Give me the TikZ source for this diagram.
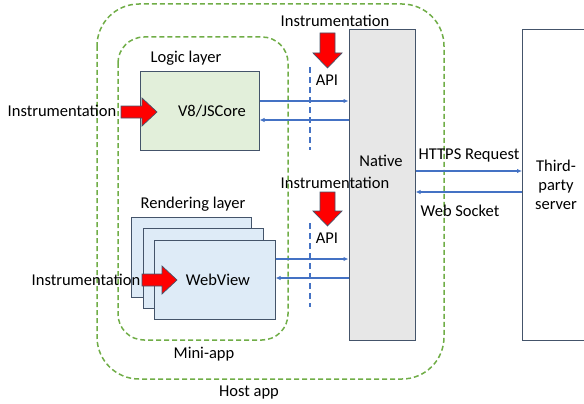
\documentclass[tikz,border=0pt]{standalone}
\usepackage{fontspec}
\setmainfont{Carlito}
\usetikzlibrary{arrows.meta}
\definecolor{dgreen}{RGB}{112,173,71}
\definecolor{lblue}{RGB}{68,114,196}
\definecolor{bord}{RGB}{68,84,106}
\definecolor{v8fill}{RGB}{226,239,218}
\definecolor{wvfill}{RGB}{222,235,247}
\definecolor{natfill}{RGB}{231,231,231}
\tikzset{
  lbl/.style={font=\fontsize{16.5}{19}\selectfont, inner sep=0pt, text=black},
  gbox/.style={draw=dgreen, dash pattern=on 5pt off 3pt, line width=1.5pt},
  blk/.style={draw=bord, line width=1pt, inner sep=0pt},
  flow/.style={draw=lblue, line width=1.3pt, -{Latex[length=5pt,width=4.5pt]}},
  apiline/.style={draw=lblue, line width=1.5pt, dash pattern=on 6pt off 4pt},
  redarrow/.style={fill=red, draw=bord, line width=0.7pt, line join=miter}
}
\begin{document}
\begin{tikzpicture}[x=1pt,y=-1pt]
\useasboundingbox (0,0) rectangle (584,404);
% host app and mini app
\draw[gbox, rounded corners=42pt] (97,4) rectangle (444,379);
\draw[gbox, rounded corners=26pt] (118,37) rectangle (288,340);
\node[lbl] (hostlbl) at (249,393) {Host app};
\node[lbl] (minilbl) at (204,354) {Mini-app};
% logic layer
\node[lbl] (logiclbl) at (186,58) {Logic layer};
\node[blk, fill=v8fill, minimum width=119pt, minimum height=78pt] (v8) at (199.5,111) {};
\node[lbl] (v8txt) at (212,111) {V8/JSCore};
% rendering layer
\node[lbl] (rendlbl) at (193,204) {Rendering layer};
\node[blk, fill=wvfill, minimum width=120pt, minimum height=80pt] (wv3) at (191.5,257) {};
\node[blk, fill=wvfill, minimum width=120pt, minimum height=80pt] (wv2) at (203,268) {};
\node[blk, fill=wvfill, minimum width=121pt, minimum height=79pt] (wv) at (214.5,279.5) {};
\node[lbl] (wvtxt) at (218,280) {WebView};
% native
\node[blk, fill=natfill, minimum width=66pt, minimum height=310pt] (nat) at (382,185) {};
\node[lbl] (nattxt) at (381,161) {Native};
% third party
\draw[draw=bord, line width=1pt, fill=white] (600,30) -- (522,30) -- (522,340) -- (600,340);
\coordinate (tpw) at (522,185);
\node[lbl, align=center] (tptxt) at (556,185) {Third-\\party\\server};
% instrumentation arrows
\node[lbl] (ins1) at (62,111) {Instrumentation};
\draw[redarrow] (121,106) -- (142,106) -- (142,98) -- (157,112) -- (142,126) -- (142,118) -- (121,118) -- cycle;
\node[lbl] (ins2) at (86,280) {Instrumentation};
\draw[redarrow] (142,274) -- (162,274) -- (162,266) -- (177,280) -- (162,294) -- (162,286) -- (142,286) -- cycle;
\node[lbl] (ins3) at (335,21) {Instrumentation};
\draw[redarrow] (320,33) -- (320,53) -- (313,53) -- (327.5,68) -- (342,53) -- (335,53) -- (335,33) -- cycle;
\node[lbl] (ins4) at (335,183) {Instrumentation};
\draw[redarrow] (320,192) -- (320,211) -- (313,211) -- (327.5,226) -- (342,211) -- (335,211) -- (335,192) -- cycle;
% API lines
\coordinate (api1a) at (310,67);
\coordinate (api1b) at (310,150);
\draw[apiline] (api1a) -- (api1b);
\node[lbl] (api1) at (327,80) {API};
\coordinate (api2a) at (310,223);
\coordinate (api2b) at (310,307);
\draw[apiline] (api2a) -- (api2b);
\node[lbl] (api2) at (327,238) {API};
% flows
\draw[flow] (v8.east |- 0,101) -- (nat.west |- 0,101);
\draw[flow] (nat.west |- 0,120) -- (v8.east |- 0,120);
\draw[flow] (wv.east |- 0,259) -- (nat.west |- 0,259);
\draw[flow] (nat.west |- 0,278) -- (wv.east |- 0,278);
\draw[flow] (nat.east |- 0,171) -- (tpw |- 0,171);
\draw[flow] (tpw |- 0,192) -- (nat.east |- 0,192);
\node[lbl] (https) at (469,155) {HTTPS Request};
\node[lbl] (ws) at (460,211) {Web Socket};
\end{tikzpicture}
\end{document}
